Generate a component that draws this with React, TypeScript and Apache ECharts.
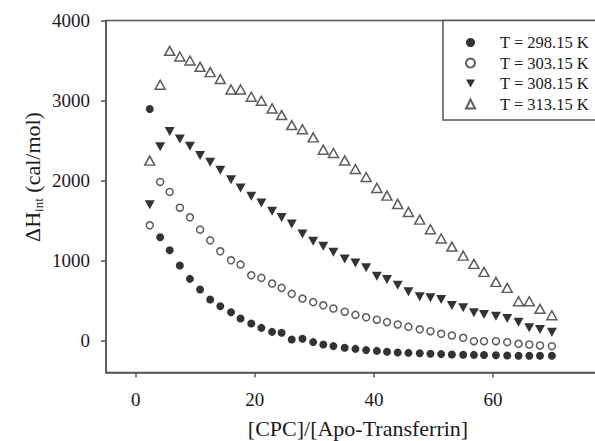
import React, { useEffect, useRef } from "react";
import * as echarts from "echarts";

// [CPC]/[Apo-Transferrin] molar ratios (shared by all series)
const xRatio = [
  2.35, 4.1, 5.7, 7.4, 9.1, 10.8, 12.5, 14.2, 16.0, 17.6,
  19.4, 21.1, 22.9, 24.5, 26.2, 28.0, 29.8, 31.5, 33.2, 35.1,
  36.9, 38.7, 40.5, 42.2, 44.0, 45.8, 47.7, 49.5, 51.3, 53.1,
  55.0, 56.8, 58.5, 60.5, 62.4, 64.3, 66.1, 67.9, 69.9,
];

// ΔH_int (cal/mol)
const dH298 = [
  2893, 1290, 1128, 937, 770, 637, 512, 428, 353, 275,
  212, 158, 108, 96, 12, 21, -20, -50, -70, -90,
  -105, -120, -130, -140, -150, -155, -160, -166, -170, -175,
  -178, -180, -182, -185, -187, -190, -190, -190, -190,
];
const dH303 = [
  1440, 1982, 1857, 1660, 1540, 1386, 1252, 1115, 1003, 949,
  815, 783, 712, 658, 583, 524, 480, 440, 400, 360,
  320, 290, 260, 230, 200, 170, 140, 116, 84, 62,
  34, -9, -9, -9, -21, -41, -50, -62, -71,
];
const dH308 = [
  1698, 2423, 2614, 2519, 2427, 2314, 2227, 2127, 2010, 1907,
  1802, 1720, 1615, 1538, 1455, 1330, 1240, 1178, 1103, 1020,
  970, 908, 803, 762, 690, 610, 546, 533, 512, 437,
  408, 346, 325, 303, 275, 229, 159, 137, 104,
];
const dH313 = [
  2248, 3197, 3621, 3550, 3500, 3421, 3355, 3268, 3138, 3138,
  3047, 2997, 2901, 2818, 2693, 2640, 2539, 2385, 2344, 2251,
  2144, 2044, 1907, 1811, 1707, 1607, 1511, 1390, 1275, 1174,
  1061, 958, 858, 733, 658, 491, 491, 396, 316,
];

const seriesNames = ["T = 298.15 K", "T = 303.15 K", "T = 308.15 K", "T = 313.15 K"];
const xTicks = [0, 20, 40, 60];
const yTicks = [0, 1000, 2000, 3000, 4000];
const xTitle = "[CPC]/[Apo-Transferrin]";

const FONT = "Liberation Serif";
const AXIS = "#555";
const INK = "#1a1a1a";
const DOWN_TRIANGLE = "path://M0,0L10,0L5,9Z";

export default function App() {
  const ref = useRef<HTMLDivElement>(null);

  useEffect(() => {
    const chart = echarts.init(ref.current!, null, { renderer: "svg" });
    const pair = (ys: number[]) => xRatio.map((x, i) => [x, ys[i]]);

    const axisCommon = {
      type: "value" as const,
      axisLine: { show: true, onZero: false, lineStyle: { color: AXIS, width: 1.5 } },
      splitLine: { show: false },
    };

    chart.setOption({
      animation: false,
      backgroundColor: "#fff",
      grid: {
        left: 106,
        top: 20.5,
        width: 506,
        height: 352,
        outerBoundsMode: "none",
        containLabel: false,
        show: true,
        borderColor: AXIS,
        borderWidth: 1.5,
      },
      xAxis: {
        ...axisCommon,
        min: -5,
        max: 80,
        axisTick: { show: true, customValues: xTicks, length: 5, lineStyle: { color: AXIS, width: 1.5 } },
        axisLabel: {
          customValues: xTicks,
          formatter: (v: number) => String(v),
          fontFamily: FONT,
          fontSize: 19,
          color: INK,
          margin: 17,
        },
      },
      yAxis: {
        ...axisCommon,
        min: -400,
        max: 4000,
        axisTick: { show: true, customValues: yTicks, length: 5, lineStyle: { color: AXIS, width: 1.5 } },
        axisLabel: {
          customValues: yTicks,
          formatter: (v: number) => String(v),
          fontFamily: FONT,
          fontSize: 19,
          color: INK,
          margin: 16,
        },
      },
      legend: {
        data: seriesNames,
        orient: "vertical",
        left: 465,
        top: 34,
        padding: 0,
        itemWidth: 9,
        itemHeight: 9,
        itemGap: 3.5,
        selectedMode: false,
        textStyle: { fontFamily: FONT, fontSize: 16.5, color: INK, lineHeight: 16, padding: [0, 0, 0, 20] },
        z: 10,
      },
      graphic: [
        {
          type: "rect",
          z: 5,
          shape: { x: 443, y: 20.5, width: 200, height: 99.5 },
          style: { fill: "#fff", stroke: AXIS, lineWidth: 1.5 },
        },
        {
          type: "text",
          x: 358,
          y: 428,
          style: {
            text: xTitle,
            fontFamily: FONT,
            fontSize: 22,
            fill: INK,
            align: "center",
            verticalAlign: "middle",
          },
        },
        {
          type: "text",
          x: 32,
          y: 177,
          rotation: Math.PI / 2,
          style: {
            text: "{a|ΔH}{b|int}{a| (cal/mol)}",
            align: "center",
            verticalAlign: "middle",
            fill: INK,
            rich: {
              a: { fontFamily: FONT, fontSize: 22, lineHeight: 30, verticalAlign: "middle", fill: INK },
              b: { fontFamily: FONT, fontSize: 13, lineHeight: 13, verticalAlign: "bottom", padding: [0, 0, 2, 0], fill: INK },
            },
          },
        },
      ],
      series: [
        {
          name: seriesNames[0],
          type: "scatter",
          symbol: "circle",
          symbolSize: 8,
          itemStyle: { color: "#000" },
          data: pair(dH298),
        },
        {
          name: seriesNames[1],
          type: "scatter",
          symbol: "circle",
          symbolSize: 7,
          itemStyle: { color: "#fff", borderColor: "#333", borderWidth: 1.5 },
          data: pair(dH303),
        },
        {
          name: seriesNames[2],
          type: "scatter",
          symbol: DOWN_TRIANGLE,
          symbolSize: [10, 9],
          itemStyle: { color: "#000" },
          data: pair(dH308),
        },
        {
          name: seriesNames[3],
          type: "scatter",
          symbol: "triangle",
          symbolSize: [10, 9],
          itemStyle: { color: "#fff", borderColor: "#333", borderWidth: 1.5 },
          data: pair(dH313),
        },
      ],
    });

    return () => chart.dispose();
  }, []);

  return <div ref={ref} style={{ position: "absolute", left: 0, top: 0, width: 595, height: 441 }} />;
}
